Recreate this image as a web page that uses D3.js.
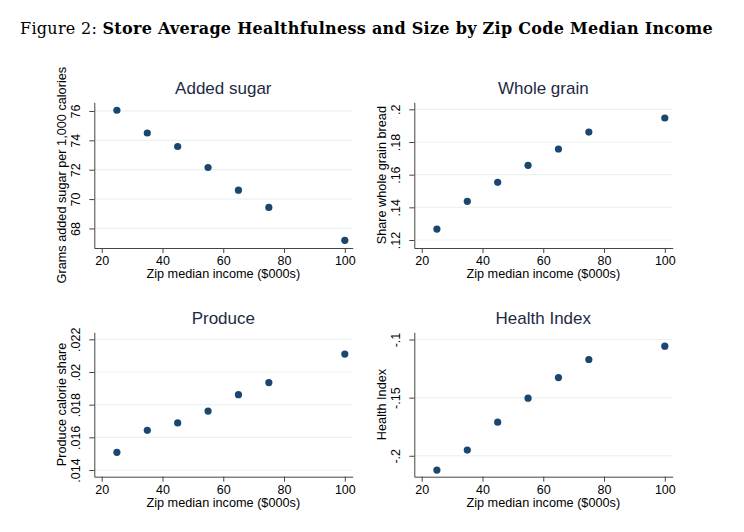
<!DOCTYPE html>
<html>
<head>
<meta charset="utf-8">
<script src="https://cdn.jsdelivr.net/npm/d3@7"></script>
<style>
  body { margin: 0; background: #fff; }
  svg text { font-family: "Liberation Sans", Arial, sans-serif; }
</style>
</head>
<body>
<svg id="chart" width="744" height="532"></svg>
<script>
// income bins (x values, $000s)
var income = [25, 35, 45, 55, 65, 75, 100];
var xTicks = [20, 40, 60, 80, 100];

var sugar = [76.05, 74.50, 73.58, 72.15, 70.61, 69.43, 67.19];
var sugarTicks = [68, 70, 72, 74, 76];
var sugarTickLabels = ['68', '70', '72', '74', '76'];

var grain = [0.1267, 0.1437, 0.1553, 0.1657, 0.1757, 0.1861, 0.1947];
var grainTicks = [0.12, 0.14, 0.16, 0.18, 0.2];
var grainTickLabels = ['.12', '.14', '.16', '.18', '.2'];

var produce = [0.01508, 0.01643, 0.01688, 0.01761, 0.01861, 0.01935, 0.02110];
var produceTicks = [0.014, 0.016, 0.018, 0.02, 0.022];
var produceTickLabels = ['.014', '.016', '.018', '.02', '.022'];

var health = [-0.2123, -0.1951, -0.1711, -0.1505, -0.1327, -0.1172, -0.1057];
var healthTicks = [-0.2, -0.15, -0.1];
var healthTickLabels = ['-.2', '-.15', '-.1'];

var svg = d3.select('#chart');

// figure caption, fitted to the width of the original LaTeX caption
var cap = svg.append('text')
	.attr('x', 20)
	.attr('y', 34)
	.style('font-family', '"DejaVu Serif", "Liberation Serif", serif')
	.style('font-size', '16px');
cap.append('tspan').text('Figure 2: ');
cap.append('tspan').attr('font-weight', 'bold')
	.text('Store Average Healthfulness and Size by Zip Code Median Income');
var capW = cap.node().getComputedTextLength();
var capN = cap.text().length;
cap.style('letter-spacing', ((693 - capW) / capN) + 'px');

var navy = '#1a476f';

function panel(opt){
	var x = d3.scaleLinear().domain([17.56, 102.6]).range([opt.left, opt.left + 258.4]);
	var y = d3.scaleLinear().domain(opt.ydom).range([opt.bottom, opt.top]);
	var g = svg.append('g');

	// grid lines
	g.selectAll('.grid').data(opt.yticks).enter().append('line')
		.attr('x1', opt.left).attr('x2', opt.left + 258.4)
		.attr('y1', d => y(d)).attr('y2', d => y(d))
		.attr('stroke', '#eaf2f3').attr('stroke-width', 1.2);

	// x axis
	var xa = g.append('g').attr('transform', 'translate(0,' + opt.bottom + ')')
		.call(d3.axisBottom(x).tickValues(xTicks).tickSize(5).tickPadding(3).tickSizeOuter(0));
	xa.select('.domain').attr('stroke', '#444');
	xa.selectAll('.tick line').attr('stroke', '#444');
	xa.selectAll('text').style('font-size', '12.5px').attr('fill', '#000');

	// y axis
	var ya = g.append('g').attr('transform', 'translate(' + opt.left + ',0)')
		.call(d3.axisLeft(y).tickValues(opt.yticks).tickFormat((d, i) => opt.ylabels[i])
			.tickSize(5).tickSizeOuter(0));
	ya.select('.domain').attr('stroke', '#444');
	ya.selectAll('.tick line').attr('stroke', '#444');
	ya.selectAll('.tick text')
		.attr('x', null).attr('dy', null)
		.attr('transform', 'translate(-14,0) rotate(-90)')
		.attr('text-anchor', 'middle')
		.attr('fill', '#000')
		.style('font-size', '12.5px');

	// points
	g.selectAll('.pt').data(income).enter().append('circle')
		.attr('cx', d => x(d))
		.attr('cy', (d, i) => y(opt.values[i]))
		.attr('r', 3.6)
		.attr('fill', navy);

	// titles
	g.append('text')
		.attr('x', opt.left + 129).attr('y', opt.top - 8.5)
		.attr('text-anchor', 'middle')
		.style('font-size', '17px').attr('fill', '#1e2a44')
		.text(opt.title);
	g.append('text')
		.attr('x', opt.left + 129).attr('y', opt.bottom + 30)
		.attr('text-anchor', 'middle')
		.style('font-size', '12.7px')
		.text('Zip median income ($000s)');
	g.append('text')
		.attr('transform', 'translate(' + (opt.left - 28) + ',' + ((opt.top + opt.bottom) / 2) + ') rotate(-90)')
		.attr('text-anchor', 'middle')
		.style('font-size', '12.7px')
		.text(opt.ytitle);
}

panel({ left: 94.3, top: 102.3, bottom: 248, ydom: [66.67, 76.59], yticks: sugarTicks, ylabels: sugarTickLabels,
	values: sugar, title: 'Added sugar', ytitle: 'Grams added sugar per 1,000 calories' });
panel({ left: 414.3, top: 102.3, bottom: 248, ydom: [0.1151, 0.2043], yticks: grainTicks, ylabels: grainTickLabels,
	values: grain, title: 'Whole grain', ytitle: 'Share whole grain bread' });
panel({ left: 94.3, top: 332.3, bottom: 476.7, ydom: [0.01359, 0.02243], yticks: produceTicks, ylabels: produceTickLabels,
	values: produce, title: 'Produce', ytitle: 'Produce calorie share' });
panel({ left: 414.3, top: 332.3, bottom: 476.7, ydom: [-0.2180, -0.0938], yticks: healthTicks, ylabels: healthTickLabels,
	values: health, title: 'Health Index', ytitle: 'Health Index' });
</script>
</body>
</html>
